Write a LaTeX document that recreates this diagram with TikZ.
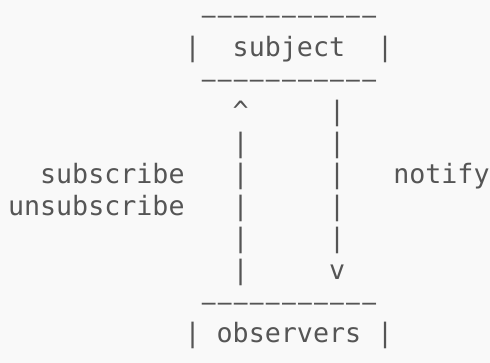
\documentclass[tikz,border=0pt]{standalone}
\usepackage{fontspec}
\setmonofont{DejaVu Sans Mono}
\definecolor{ink}{HTML}{555555}
\definecolor{paper}{HTML}{F9F9F9}
\tikzset{
  chr/.style={anchor=base west, inner sep=0pt, outer sep=0pt, text=ink,
    font=\ttfamily\fontsize{20}{24}\selectfont},
  dashchr/.style={chr, anchor=base},
}
\newcommand{\dashglyph}{\scalebox{0.86}[1]{—}}

\begin{document}
\begin{tikzpicture}[x=12.04pt, y=-23.85pt]
    \fill [paper] (-6pt,18.75pt) rectangle (361.5pt,-253.5pt);
    \useasboundingbox (-6pt,18.75pt) rectangle (361.5pt,-253.5pt);
    % subject box
    \foreach \c in {12,...,22} {
        \node [dashchr] (subjtop\c) at (\c+0.5,0) {\dashglyph};
        \node [dashchr] (subjbot\c) at (\c+0.5,2) {\dashglyph};
    }
    \node [chr] (subjleft) at (11,1) {|};
    \node [chr] (subject) at (14,1) {subject};
    \node [chr] (subjright) at (23,1) {|};
    % subscribe / unsubscribe line
    \node [chr] (uphead) at (14,3) {\textasciicircum};
    \foreach \r in {4,...,8}
        \node [chr] (upbar\r) at (14,\r) {|};
    % notify line
    \foreach \r in {3,...,7}
        \node [chr] (downbar\r) at (20,\r) {|};
    \node [chr] (downhead) at (20,8) {v};
    % labels
    \node [chr] (sub) at (2,5) {subscribe};
    \node [chr] (unsub) at (0,6) {unsubscribe};
    \node [chr] (notify) at (24,5) {notify};
    % observers box
    \foreach \c in {12,...,22}
        \node [dashchr] (obstop\c) at (\c+0.5,9) {\dashglyph};
    \node [chr] (obsleft) at (11,10) {|};
    \node [chr] (observers) at (13,10) {observers};
    \node [chr] (obsright) at (23,10) {|};
\end{tikzpicture}
\end{document}
